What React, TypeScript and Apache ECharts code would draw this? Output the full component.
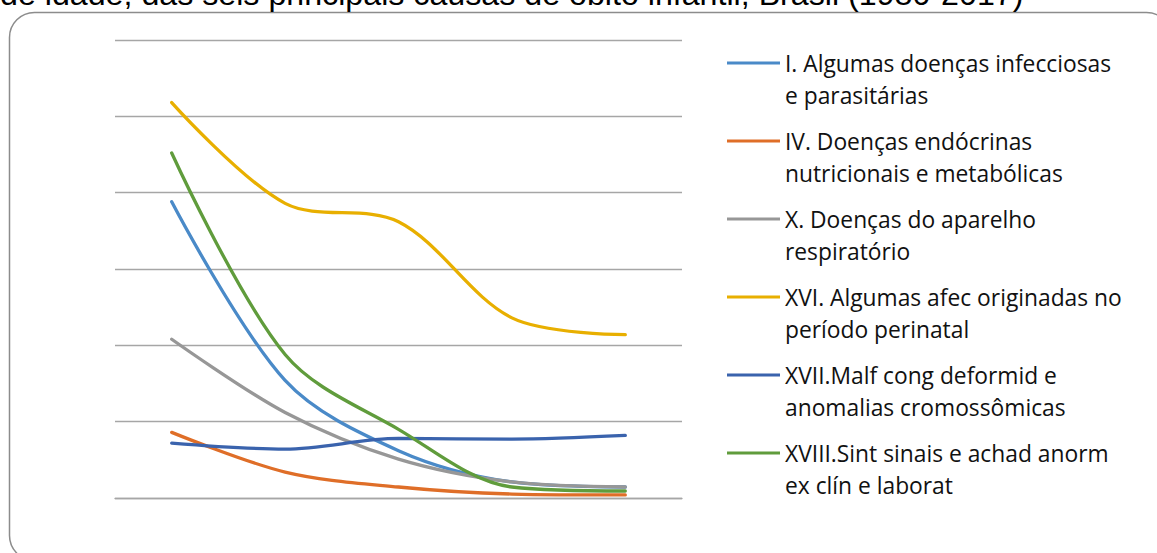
import React, { useEffect, useRef } from "react";
import * as echarts from "echarts";

// Years on the horizontal axis (labels are not displayed)
const categories = ["1980", "1990", "2000", "2010", "2017"];

// Rates by cause group
const infecciosas = [19.4, 7.7, 3.1, 1.05, 0.72];
const endocrinas = [4.3, 1.7, 0.72, 0.26, 0.2];
const respiratorio = [10.4, 5.6, 2.55, 1.05, 0.72];
const perinatal = [25.9, 19.3, 18.1, 11.8, 10.7];
const malformacoes = [3.6, 3.2, 3.9, 3.86, 4.1];
const sintomas = [22.6, 9.4, 4.5, 0.72, 0.46];

const seriesNames = [
  "I. Algumas doenças infecciosas\ne parasitárias",
  "IV. Doenças endócrinas\nnutricionais e metabólicas",
  "X. Doenças do aparelho\nrespiratório",
  "XVI. Algumas afec originadas no\nperíodo perinatal",
  "XVII.Malf cong deformid e\nanomalias cromossômicas",
  "XVIII.Sint sinais e achad anorm\nex clín e laborat",
];
const seriesData = [infecciosas, endocrinas, respiratorio, perinatal, malformacoes, sintomas];
const colors = ["#4A8AC8", "#DF6E28", "#979797", "#E8AF00", "#3A63AD", "#609C3C"];

const titleText =
  "de idade, das seis principais causas de óbito infantil, Brasil (1980-2017)";

export default function App() {
  const ref = useRef<HTMLDivElement>(null);

  useEffect(() => {
    document.body.style.margin = "0";
    if (!ref.current) return;
    const chart = echarts.init(ref.current, undefined, { renderer: "svg" });
    chart.setOption({
      animation: false,
      color: colors,
      grid: { left: 115, right: 475, top: 40, bottom: 55, containLabel: false },
      xAxis: {
        type: "category",
        data: categories,
        boundaryGap: true,
        axisLine: { show: true, lineStyle: { color: "#A6A6A6", width: 1.3 } },
        axisTick: { show: false },
        axisLabel: { show: false },
      },
      yAxis: {
        type: "value",
        min: 0,
        max: 30,
        interval: 5,
        axisLine: { show: false },
        axisTick: { show: false },
        axisLabel: { show: false },
        splitLine: { lineStyle: { color: "#A6A6A6", width: 1.3 } },
      },
      legend: {
        orient: "vertical",
        left: 727,
        top: 15,
        padding: 0,
        itemGap: -18,
        itemWidth: 53,
        itemHeight: 3,
        icon: "rect",
        selectedMode: false,
        // a blank first line keeps the swatch level with the first line of each name
        formatter: (name: string) => "\n" + name,
        textStyle: {
          fontFamily: "Open Sans",
          fontSize: 22.8,
          lineHeight: 32,
          color: "#111",
        },
        data: seriesNames,
      },
      graphic: [
        {
          type: "rect",
          shape: { x: 9.5, y: 12.5, width: 1162, height: 548, r: 25 },
          style: { fill: "none", stroke: "#8C8C8C", lineWidth: 1.5 },
          silent: true,
        },
        {
          type: "text",
          x: 0,
          y: -6,
          style: {
            text: titleText,
            font: '32.2px "Liberation Sans"',
            fill: "#000",
            verticalAlign: "middle",
          },
          silent: true,
        },
      ],
      series: seriesNames.map((name, i) => ({
        name,
        type: "line",
        data: seriesData[i],
        smooth: 0.33,
        showSymbol: false,
        symbol: "none",
        lineStyle: { width: 3.3, color: colors[i], cap: "round" },
        emphasis: { disabled: true },
      })),
    });
    return () => chart.dispose();
  }, []);

  return <div ref={ref} style={{ width: 1157, height: 553 }} />;
}
